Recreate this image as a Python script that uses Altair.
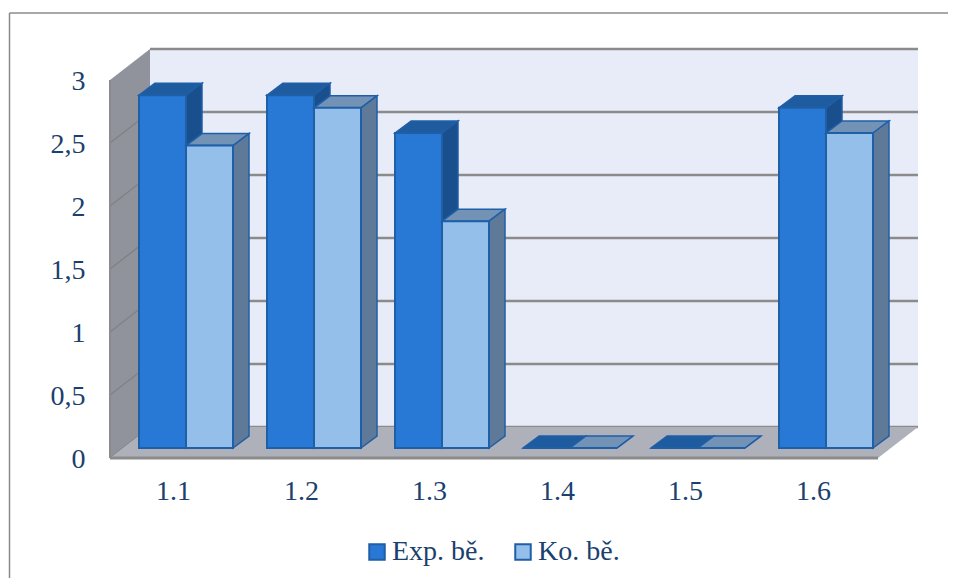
import altair as alt
import pandas as pd

categories = ["1.1", "1.2", "1.3", "1.4", "1.5", "1.6"]
exp_values = [2.8, 2.8, 2.5, 0, 0, 2.7]
ko_values = [2.4, 2.7, 1.8, 0, 0, 2.5]
series_names = ["Exp. bě.", "Ko. bě."]
y_ticks = [0, 0.5, 1, 1.5, 2, 2.5, 3]

# Layout of the pseudo-3D box, in data units (1 x unit = one category slot, 1 y unit = one value)
PX, PY = 128.0, 126.0
WALL_DX, WALL_DY = 40 / PX, 31 / PY
BAR_DX, BAR_DY = 16 / PX, 12 / PY
BAR_X0, BAR_W = 29 / PX, 47 / PX
BAR_BASE = 10 / PY
N = len(categories)

NAVY = "#1b3f6e"
EDGE = "#1f5fa8"
FONT = "Liberation Serif"
FS = 28
FRONT = ["#2878d6", "#94bfea"]
TOP = ["#1f5c9f", "#7292b6"]
SIDE = ["#1a4f8d", "#5f7a98"]
GRID = "#8b8b8b"

x_scale = alt.Scale(domain=[0, N], nice=False, zero=False)
y_scale = alt.Scale(domain=[0, 3], nice=False, zero=False)

label_expr = "[" + ",".join(f"'{c}'" for c in categories) + "][floor(datum.value)]"
x_axis = alt.Axis(
    title=None,
    values=[i + 0.5 for i in range(N)],
    labelExpr=label_expr,
    domain=False,
    ticks=False,
    grid=False,
    labelPadding=19,
    labelOffset=-1,
    labelFont=FONT,
    labelFontSize=FS,
    labelColor=NAVY,
)
y_axis = alt.Axis(
    title=None,
    values=y_ticks,
    labelExpr="replace(format(datum.value, '.1~f'), '.', ',')",
    domain=False,
    ticks=False,
    grid=False,
    labelPadding=25,
    labelOffset=1,
    labelFont=FONT,
    labelFontSize=FS,
    labelColor=NAVY,
)
X = lambda f: alt.X(f, type="quantitative", scale=x_scale, axis=x_axis)
Y = lambda f: alt.Y(f, type="quantitative", scale=y_scale, axis=y_axis)

bars, sides, tops = [], [], []
for s, vals in enumerate([exp_values, ko_values]):
    for i, v in enumerate(vals):
        xl = i + BAR_X0 + s * BAR_W
        xr = xl + BAR_W
        top = BAR_BASE + v
        bars.append(dict(series=series_names[s], s=s, xl=xl, xr=xr, y0=BAR_BASE, y1=top))
        sides += [
            dict(s=s, id=i, x=xr, y=BAR_BASE, y2=top),
            dict(s=s, id=i, x=xr + BAR_DX, y=BAR_BASE + BAR_DY, y2=top + BAR_DY),
        ]
        tops += [
            dict(s=s, id=i, y=top, x=xl, x2=xr),
            dict(s=s, id=i, y=top + BAR_DY, x=xl + BAR_DX, x2=xr + BAR_DX),
        ]
bars, sides, tops = pd.DataFrame(bars), pd.DataFrame(sides), pd.DataFrame(tops)

# Box
back = alt.Chart(pd.DataFrame([dict(x=WALL_DX, x2=N + WALL_DX, y=WALL_DY, y2=3 + WALL_DY)])).mark_rect(
    color="#e8ecf8"
).encode(X("x"), x2="x2", y=Y("y"), y2="y2")

back_grid = alt.Chart(
    pd.DataFrame([dict(x=WALL_DX, x2=N + WALL_DX, y=t + WALL_DY) for t in y_ticks])
).mark_rule(color=GRID, strokeWidth=2.5).encode(X("x"), x2="x2", y=Y("y"))

left_wall = alt.Chart(
    pd.DataFrame([dict(x=0, y=0, y2=3), dict(x=WALL_DX, y=WALL_DY, y2=3 + WALL_DY)])
).mark_area(color="#90939b").encode(X("x"), y=Y("y"), y2="y2")

left_grid = alt.Chart(
    pd.DataFrame(
        [dict(t=t, x=0, y=t) for t in y_ticks[:-1]]
        + [dict(t=t, x=WALL_DX, y=t + WALL_DY) for t in y_ticks[:-1]]
    )
).mark_line(color="#808285", strokeWidth=1.5).encode(X("x"), y=Y("y"), detail="t:N")

floor = alt.Chart(
    pd.DataFrame([dict(y=0, x=0, x2=N), dict(y=WALL_DY, x=WALL_DX, x2=N + WALL_DX)])
).mark_area(color="#aeb1b9", orient="horizontal").encode(X("x"), x2="x2", y=Y("y"))

floor_edge = alt.Chart(pd.DataFrame([dict(x=0, x2=N, y=0)])).mark_rule(color=GRID, strokeWidth=3).encode(
    X("x"), x2="x2", y=Y("y")
)
wall_edge = alt.Chart(pd.DataFrame([dict(x=0, y=0, y2=3)])).mark_rule(color=GRID, strokeWidth=2).encode(
    X("x"), y=Y("y"), y2="y2"
)

# Frame
frame_left = alt.Chart(pd.DataFrame([dict(k=0)])).mark_rule(color=GRID, strokeWidth=1.5).encode(
    x=alt.value(-100.5), y=alt.value(-67), y2=alt.value(520)
)
frame_top = alt.Chart(pd.DataFrame([dict(k=0)])).mark_rule(color=GRID, strokeWidth=1.5).encode(
    x=alt.value(-100.5), x2=alt.value(860), y=alt.value(-67)
)

layers = [frame_left, frame_top, back, back_grid, left_wall, left_grid, floor, floor_edge, wall_edge]

for s in range(2):
    layers.append(
        alt.Chart(tops[tops.s == s]).mark_area(
            color=TOP[s], orient="horizontal", stroke=EDGE, strokeWidth=1.5
        ).encode(X("x"), x2="x2", y=Y("y"), detail="id:N")
    )
    layers.append(
        alt.Chart(sides[sides.s == s]).mark_area(color=SIDE[s], stroke=EDGE, strokeWidth=1.5).encode(
            X("x"), y=Y("y"), y2="y2", detail="id:N"
        )
    )
    layers.append(
        alt.Chart(bars[bars.s == s]).mark_rect(stroke=EDGE, strokeWidth=2).encode(
            X("xl"),
            x2="xr",
            y=Y("y0"),
            y2="y1",
            color=alt.Color(
                "series:N",
                scale=alt.Scale(domain=series_names, range=FRONT),
                legend=alt.Legend(
                    title=None,
                    orient="none",
                    legendX=253,
                    legendY=458,
                    direction="horizontal",
                    columns=2,
                    columnPadding=24,
                    symbolType="square",
                    symbolSize=240,
                    symbolStrokeColor=EDGE,
                    symbolStrokeWidth=2,
                    labelFont=FONT,
                    labelFontSize=FS,
                    labelColor=NAVY,
                    labelOffset=1,
                    labelLimit=200,
                ),
            ),
        )
    )

chart = (
    alt.layer(*layers)
    .properties(
        width=768,
        height=378,
        autosize=alt.AutoSizeParams(type="none"),
        padding={"left": 102, "top": 72, "right": 70, "bottom": 120},
        background="white",
    )
    .configure_view(stroke=None)
)

chart.save("out.html", embed_options={"renderer": "svg", "actions": False})
